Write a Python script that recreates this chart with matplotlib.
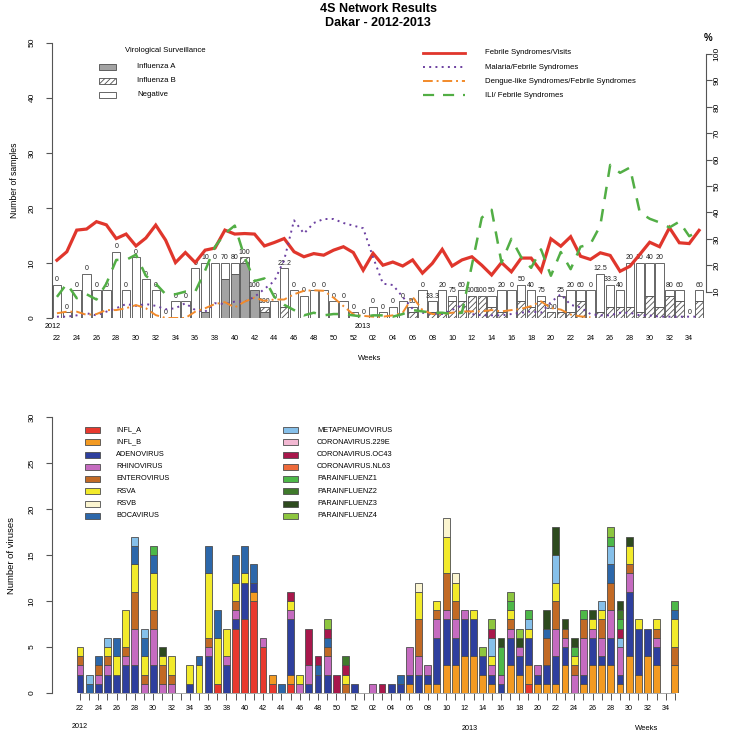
import numpy as np
import matplotlib.pyplot as plt
from matplotlib.patches import Rectangle
from matplotlib.lines import Line2D
from matplotlib.transforms import blended_transform_factory

plt.rcParams['font.family'] = ['Liberation Sans', 'DejaVu Sans']
plt.rcParams['hatch.linewidth'] = 0.6

########################################################### Data ###########################################################

weeks_2012 = list(range(22, 53))
weeks_2013 = list(range(1, 36))
week_nums = weeks_2012 + weeks_2013

# virological surveillance (number of samples)
samples_total = [6, 1, 5, 8, 5, 5, 12, 5, 11, 7, 5, 0, 3, 3, 9, 10, 10, 10, 10, 11, 5, 2, 3, 9, 5, 4, 5, 5, 3, 3, 1,
                 0, 2, 1, 2, 3, 2, 5, 3, 5, 4, 5, 4, 4, 4, 5, 5, 6, 5, 4, 1, 4, 5, 5, 5, 8, 6, 5, 10, 10, 10, 10, 5, 5, 0, 5]
flu_a_pos = [0, 0, 0, 0, 0, 0, 0, 0, 0, 0, 0, 0, 0, 0, 0, 1, 0, 7, 8, 10, 5, 1, 0, 0, 0, 0, 0, 0, 0, 0, 0,
             0, 0, 0, 0, 0, 0, 0, 0, 0, 0, 0, 0, 0, 0, 0, 0, 0, 0, 0, 0, 0, 0, 0, 0, 0, 0, 0, 0, 0, 0, 0, 0, 0, 0, 0]
flu_b_pos = [0, 0, 0, 0, 0, 0, 0, 0, 0, 0, 0, 0, 0, 0, 0, 0, 0, 0, 0, 1, 0, 1, 0, 2, 0, 0, 0, 0, 0, 0, 0,
             0, 0, 0, 0, 0, 1, 0, 1, 1, 3, 3, 4, 4, 2, 1, 0, 3, 2, 3, 1, 1, 1, 3, 0, 1, 2, 2, 2, 1, 4, 2, 4, 3, 0, 3]

# sentinel indicators (%)
febrile_visits = [21.9, 25.1, 33.3, 33.7, 36.5, 35.3, 30.1, 31.8, 27.3, 30.3, 35.2, 29.5, 21.0, 24.8, 21.0, 25.7,
                  26.5, 33.3, 31.8, 32.0, 31.8, 27.3, 28.6, 30.1, 25.1, 23.2, 24.4, 23.8, 25.7, 27.0, 24.8,
                  18.1, 24.5, 20.0, 21.2, 19.7, 22.0, 17.0, 20.7, 26.0, 19.7, 22.0, 23.2, 20.0, 16.3, 21.0, 17.5,
                  22.7, 22.7, 17.7, 30.0, 27.2, 30.8, 23.4, 22.2, 24.7, 23.7, 17.7, 19.6, 24.1, 28.7, 27.0, 34.2,
                  28.5, 28.2, 33.2]
malaria_febrile = [0.5, 0.5, 1, 1.8, 1, 2.4, 3.7, 5.3, 4.6, 5.3, 4.6, 3.3, 3.7, 5.6, 3, 2.4, 5.6, 5.3, 6.2, 6.2,
                   8, 11, 14, 22, 37, 32, 36, 37.5, 37.5, 36, 35,
                   34, 23, 13, 12.5, 8, 3.5, 2, 1.5, 1.5, 3, 5, 1.5, 1, 1, 1, 1.5, 2, 2.5, 2, 6, 9, 5, 4, 1.5,
                   1, 1, 2, 2, 1, 1, 0.5, 0.5, 0.5, 0.5, 0.5]
dengue_febrile = [1.8, 2.4, 2.4, 1.2, 1.5, 3, 3, 3.7, 4.9, 3.7, 1.1, 0, 0, 0, 2.4, 3.7, 5.3, 6, 4, 6.2,
                  7.7, 6.5, 7, 7, 9, 10.3, 10.5, 10.3, 7.7, 4.5, 1.4,
                  0.8, 0.5, 0.5, 1, 2, 8, 3, 1.5, 1.5, 2, 2.5, 2.5, 2.5, 3, 2.5, 3, 3.5, 4.5, 6.3, 3.8, 3.2,
                  1.3, 0.6, 0.3, np.nan, np.nan, np.nan, np.nan, np.nan, np.nan, np.nan, np.nan, np.nan, np.nan, np.nan]
ili_febrile = [8, 13, 7.5, 9, 7, 13, 22, 22, 24, 16, 13, 9, 9, 10, 10, 18, 27, 32, 35, 23, 14, 15, 8, 5, 3,
               1, 2, 1, 1.5, 1.5, 1,
               0.5, 1, 1, 0.5, 1.5, 3, 2.5, 2, 2, 1.5, 2, 20, 38, 41, 21, 30, 23, 19, 26, 16, 25, 18.5, 27, 28,
               35, 58, 55, 57, 40, 37.6, 36.2, 34.3, 36.5, 31, 33]

# virus counts, 2012 weeks 22-52 then 2013 weeks 1-35
infl_a = [0, 0, 0, 0, 0, 0, 0, 0, 0, 0, 0, 0, 0, 0, 0, 1, 0, 7, 8, 10, 5, 1, 0, 1, 0, 0, 0, 0, 0, 0, 0] + \
         [0, 0, 0, 0, 0, 0, 0, 0, 0, 0, 0, 0, 0, 0, 0, 0, 0, 0, 1, 0, 0, 0, 0, 0, 0, 0, 0, 0, 0, 0, 0, 0, 0, 0, 0]
infl_b = [0, 0, 0, 0, 0, 0, 0, 0, 0, 0, 0, 0, 0, 0, 0, 0, 0, 0, 0, 1, 0, 1, 0, 1, 0, 0, 0, 0, 0, 0, 0] + \
         [0, 0, 0, 0, 0, 1, 0, 1, 1, 3, 3, 4, 4, 2, 1, 0, 3, 2, 2, 1, 1, 1, 3, 0, 1, 3, 3, 3, 1, 4, 2, 4, 3, 0, 3]
adenovirus = [2, 0, 1, 2, 2, 3, 3, 0, 3, 0, 0, 0, 1, 0, 4, 0, 3, 1, 4, 1, 0, 0, 0, 6, 0, 1, 2, 2, 0, 0, 1] + \
             [0, 0, 0, 1, 1, 1, 2, 1, 5, 5, 3, 4, 4, 2, 1, 1, 3, 2, 3, 1, 2, 3, 2, 0, 1, 3, 1, 3, 1, 7, 5, 3, 2, 0, 0]
rhinovirus = [1, 0, 1, 1, 0, 1, 4, 1, 4, 1, 1, 0, 0, 0, 1, 0, 1, 1, 0, 0, 1, 0, 0, 1, 1, 2, 0, 2, 0, 0, 0] + \
             [0, 1, 0, 0, 0, 3, 2, 1, 2, 1, 2, 1, 0, 0, 1, 1, 1, 1, 0, 1, 0, 3, 1, 2, 4, 1, 2, 3, 3, 2, 0, 0, 1, 0, 0]
enterovirus = [1, 0, 1, 1, 0, 1, 4, 1, 2, 2, 1, 0, 0, 0, 1, 0, 0, 1, 0, 0, 0, 0, 0, 0, 0, 0, 0, 1, 0, 1, 0] + \
              [0, 0, 0, 0, 0, 0, 4, 0, 1, 4, 2, 0, 0, 0, 0, 0, 1, 0, 0, 0, 3, 3, 1, 1, 2, 0, 2, 3, 0, 1, 0, 0, 1, 0, 2]
rsva = [1, 0, 0, 1, 2, 4, 3, 2, 4, 1, 2, 0, 2, 3, 7, 5, 3, 2, 1, 0, 0, 0, 0, 1, 1, 0, 0, 0, 0, 1, 0] + \
       [0, 0, 0, 0, 0, 0, 3, 0, 1, 4, 2, 0, 1, 0, 1, 0, 1, 0, 1, 0, 0, 2, 0, 1, 0, 1, 1, 0, 0, 2, 1, 0, 1, 0, 3]
rsvb = [0, 0, 0, 0, 0, 0, 0, 0, 0, 0, 0, 0, 0, 0, 0, 0, 0, 0, 0, 0, 0, 0, 0, 0, 0, 0, 0, 0, 0, 0, 0] + \
       [0, 0, 0, 0, 0, 0, 1, 0, 0, 2, 1, 0, 0, 0, 0, 0, 0, 0, 0, 0, 0, 0, 0, 0, 0, 0, 0, 0, 0, 0, 0, 0, 0, 0, 0]
bocavirus = [0, 1, 1, 0, 2, 0, 2, 2, 2, 0, 0, 0, 0, 1, 3, 3, 0, 3, 3, 2, 0, 0, 1, 0, 0, 0, 1, 1, 0, 0, 0] + \
            [0, 0, 0, 0, 1, 0, 0, 0, 0, 0, 0, 0, 0, 0, 0, 0, 0, 0, 0, 0, 1, 0, 0, 0, 0, 0, 0, 2, 0, 0, 0, 0, 0, 0, 1]
metapneumovirus = [0, 1, 0, 1, 0, 0, 1, 1, 0, 0, 0, 0, 0, 0, 0, 0, 0, 0, 0, 0, 0, 0, 0, 0, 0, 0, 0, 0, 0, 0, 0] + \
                  [0, 0, 0, 0, 0, 0, 0, 0, 0, 0, 0, 0, 0, 0, 2, 0, 0, 0, 1, 0, 0, 3, 0, 0, 0, 0, 1, 2, 1, 0, 0, 0, 0, 0, 0]
corona_229e = [0, 0, 0, 0, 0, 0, 0, 0, 0, 0, 0, 0, 0, 0, 0, 0, 0, 0, 0, 0, 0, 0, 0, 0, 0, 0, 0, 0, 0, 0, 0] + \
              [0, 0, 0, 0, 0, 0, 0, 0, 0, 0, 0, 0, 0, 0, 0, 0, 0, 0, 0, 0, 0, 0, 0, 0, 0, 0, 0, 0, 0, 0, 0, 0, 0, 0, 0]
corona_oc43 = [0, 0, 0, 0, 0, 0, 0, 0, 0, 0, 0, 0, 0, 0, 0, 0, 0, 0, 0, 0, 0, 0, 0, 1, 0, 4, 1, 1, 2, 1, 0] + \
              [0, 0, 1, 0, 0, 0, 0, 0, 0, 0, 0, 0, 0, 0, 1, 0, 0, 0, 0, 0, 0, 0, 0, 0, 0, 0, 0, 0, 1, 0, 0, 0, 0, 0, 0]
corona_nl63 = [0, 0, 0, 0, 0, 0, 0, 0, 0, 0, 0, 0, 0, 0, 0, 0, 0, 0, 0, 0, 0, 0, 0, 0, 0, 0, 0, 0, 0, 0, 0] + \
              [0, 0, 0, 0, 0, 0, 0, 0, 0, 0, 0, 0, 0, 0, 0, 0, 0, 0, 0, 0, 0, 0, 0, 0, 0, 0, 0, 0, 0, 0, 0, 0, 0, 0, 0]
parainfluenza1 = [0, 0, 0, 0, 0, 0, 0, 0, 1, 0, 0, 0, 0, 0, 0, 0, 0, 0, 0, 0, 0, 0, 0, 0, 0, 0, 0, 0, 0, 0, 0] + \
                 [0, 0, 0, 0, 0, 0, 0, 0, 0, 0, 0, 0, 0, 0, 0, 3, 1, 0, 1, 0, 0, 0, 0, 1, 1, 0, 0, 1, 1, 0, 0, 0, 0, 0, 1]
parainfluenza2 = [0, 0, 0, 0, 0, 0, 0, 0, 0, 0, 0, 0, 0, 0, 0, 0, 0, 0, 0, 0, 0, 0, 0, 0, 0, 0, 0, 0, 0, 1, 0] + \
                 [0, 0, 0, 0, 0, 0, 0, 0, 0, 0, 0, 0, 0, 0, 0, 0, 0, 0, 0, 0, 0, 0, 0, 0, 0, 0, 0, 0, 1, 0, 0, 0, 0, 0, 0]
parainfluenza3 = [0, 0, 0, 0, 0, 0, 0, 0, 0, 1, 0, 0, 0, 0, 0, 0, 0, 0, 0, 0, 0, 0, 0, 0, 0, 0, 0, 0, 0, 0, 0] + \
                 [0, 0, 0, 0, 0, 0, 0, 0, 0, 0, 0, 0, 0, 0, 0, 1, 0, 1, 0, 0, 2, 3, 1, 1, 0, 1, 0, 0, 1, 1, 0, 0, 0, 0, 0]
parainfluenza4 = [0, 0, 0, 0, 0, 0, 0, 0, 0, 0, 0, 0, 0, 0, 0, 0, 0, 0, 0, 0, 0, 0, 0, 0, 0, 0, 0, 1, 0, 0, 0] + \
                 [0, 0, 0, 0, 0, 0, 0, 0, 0, 0, 0, 0, 0, 1, 1, 0, 1, 1, 0, 0, 0, 0, 0, 0, 0, 0, 0, 1, 0, 0, 0, 0, 0, 0, 0]

virus_names = ['INFL_A', 'INFL_B', 'ADENOVIRUS', 'RHINOVIRUS', 'ENTEROVIRUS', 'RSVA', 'RSVB', 'BOCAVIRUS',
               'METAPNEUMOVIRUS', 'CORONAVIRUS.229E', 'CORONAVIRUS.OC43', 'CORONAVIRUS.NL63',
               'PARAINFLUENZ1', 'PARAINFLUENZ2', 'PARAINFLUENZ3', 'PARAINFLUENZ4']
virus_counts = [infl_a, infl_b, adenovirus, rhinovirus, enterovirus, rsva, rsvb, bocavirus,
                metapneumovirus, corona_229e, corona_oc43, corona_nl63,
                parainfluenza1, parainfluenza2, parainfluenza3, parainfluenza4]
virus_colors = ['#E8392E', '#F39A22', '#2E3F9E', '#C56BC0', '#C26A25', '#F2EA2B', '#FBF5D0', '#2C67AA',
                '#86C0EA', '#F2B8D2', '#A8174B', '#EE6A3A', '#4DB848', '#3F7A2B', '#2D4A1E', '#8DC63F']

########################################################### Layout helpers ###########################################################

W, H = 730, 736


def fx(px):
    return px / W


def fy(py):
    return 1 - py / H


fig = plt.figure(figsize=(7.3, 7.36), dpi=100)
x = np.arange(len(week_nums))
week_labels = ['%02d' % w if w % 2 == 0 else '' for w in week_nums]
even = [i for i, w in enumerate(week_nums) if w % 2 == 0]
axis_col = '#555555'
edge_col = '#4d4d4d'

########################################################### Top panel ###########################################################

ax = fig.add_axes([fx(52), fy(318), fx(706) - fx(52), fy(42.7) - fy(318)])
ax.set_xlim(-0.5, 65.7)
ax.set_ylim(0, 50)

tot = np.array(samples_total, dtype=float)
fa = np.array(flu_a_pos, dtype=float)
fb = np.array(flu_b_pos, dtype=float)
neg = tot - fa - fb

m = fa > 0
ax.bar(x[m], fa[m], 0.85, color='#A3A3A3', edgecolor=edge_col, lw=0.6)
m = fb > 0
ax.bar(x[m], fb[m], 0.85, bottom=fa[m], color='white', hatch='//////', edgecolor=edge_col, lw=0.6)
m = neg > 0
ax.bar(x[m], neg[m], 0.85, bottom=(fa + fb)[m], color='white', edgecolor=edge_col, lw=0.6)

# percentage of positive samples above each bar
pct = np.where(tot > 0, (fa + fb) / np.where(tot > 0, tot, 1) * 100, 0)
for xi, t, p in zip(x, tot, pct):
    lab = ('%.1f' % p).rstrip('0').rstrip('.')
    ax.text(xi, t + 0.3, lab, ha='center', va='bottom', fontsize=5.0, color='#222222')

for s in ['top', 'right', 'bottom']:
    ax.spines[s].set_visible(False)
ax.spines['left'].set_bounds(0, 50)
ax.spines['left'].set_color(axis_col)
ax.set_yticks(range(0, 51, 10))
ax.tick_params(axis='y', length=4, width=0.8, color=axis_col, pad=8, labelsize=6, labelrotation=90)
for t in ax.get_yticklabels():
    t.set_va('center')
ax.set_xticks([x[i] for i in even])
ax.set_xticklabels([week_labels[i] for i in even])
ax.tick_params(axis='x', length=0, pad=12, labelsize=5.2)

trans = blended_transform_factory(ax.transData, fig.transFigure)
ax.text(-0.4, fy(326), '2012', transform=trans, ha='center', va='center', fontsize=5.2)
ax.text(31, fy(326), '2013', transform=trans, ha='center', va='center', fontsize=5.2)

ax2 = ax.twinx()
ax2.set_ylim(0, 104.3)
ax2.plot(x, febrile_visits, color='#E0362C', lw=2.3, solid_joinstyle='miter')
ax2.plot(x, malaria_febrile, color='#6B3FA0', lw=1.4, ls=(0, (1, 2.2)))
ax2.plot(x, dengue_febrile, color='#F28A2A', lw=1.4, ls=(0, (5, 2, 1, 2)))
ax2.plot(x, ili_febrile, color='#52AE45', lw=1.8, ls=(0, (5, 4)))
for s in ['top', 'left', 'bottom']:
    ax2.spines[s].set_visible(False)
ax2.spines['right'].set_bounds(10, 100)
ax2.spines['right'].set_color(axis_col)
ax2.set_yticks(range(10, 101, 10))
ax2.tick_params(axis='y', length=4, width=0.8, color=axis_col, pad=1.5, labelsize=6, labelrotation=90)
for t in ax2.get_yticklabels():
    t.set_va('center')

fig.text(fx(378), fy(9), '4S Network Results', ha='center', va='center', fontsize=9, fontweight='bold')
fig.text(fx(378), fy(23), 'Dakar - 2012-2013', ha='center', va='center', fontsize=9, fontweight='bold')
fig.text(fx(15), fy(180), 'Number of samples', rotation=90, ha='center', va='center', fontsize=6.2)
fig.text(fx(708), fy(38), '%', ha='center', va='center', fontsize=7, fontweight='bold')
fig.text(fx(370), fy(358), 'Weeks', ha='center', va='center', fontsize=5.5)

# legends of the top panel
fig.text(fx(125), fy(51), 'Virological Surveillance', ha='left', va='center', fontsize=5.6)
surv_items = [('Influenza A', '#A3A3A3', None), ('Influenza B', 'white', '//////'), ('Negative', 'white', None)]
for k, (lab, col, hat) in enumerate(surv_items):
    yc = 67 + 14 * k
    fig.add_artist(Rectangle((fx(99), fy(yc + 3)), 17 / W, 6 / H, transform=fig.transFigure,
                             facecolor=col, edgecolor=edge_col, hatch=hat, lw=0.6))
    fig.text(fx(137), fy(yc), lab, ha='left', va='center', fontsize=5.6)

line_items = [('Febrile Syndromes/Visits', '#E0362C', '-', 2.0),
              ('Malaria/Febrile Syndromes', '#6B3FA0', (0, (1, 2.2)), 1.4),
              ('Dengue-like Syndromes/Febrile Syndromes', '#F28A2A', (0, (5, 2, 1, 2)), 1.4),
              ('ILI/ Febrile Syndromes', '#52AE45', (0, (5, 4)), 1.6)]
for k, (lab, col, ls, lw) in enumerate(line_items):
    yc = 53 + 14.1 * k
    fig.add_artist(Line2D([fx(423), fx(465)], [fy(yc), fy(yc)], transform=fig.transFigure,
                          color=col, ls=ls, lw=lw))
    fig.text(fx(485), fy(yc), lab, ha='left', va='center', fontsize=5.6)

########################################################### Bottom panel ###########################################################

bx = fig.add_axes([fx(52), fy(693), fx(706) - fx(52), fy(417) - fy(693)])
bx.set_xlim(-3.06, 68.4)
bx.set_ylim(0, 30)

base = np.zeros(len(x))
for vals, col in zip(virus_counts, virus_colors):
    v = np.array(vals, dtype=float)
    m = v > 0
    bx.bar(x[m], v[m], 0.75, bottom=base[m], color=col, edgecolor=edge_col, lw=0.6)
    base += v

for s in ['top', 'right']:
    bx.spines[s].set_visible(False)
bx.spines['left'].set_bounds(0, 30)
bx.spines['left'].set_color(axis_col)
bx.spines['bottom'].set_bounds(0, 65)
bx.spines['bottom'].set_color('#9a9a9a')
bx.spines['bottom'].set_linewidth(0.6)
bx.set_yticks(range(0, 31, 5))
bx.tick_params(axis='y', length=4, width=0.8, color=axis_col, pad=8, labelsize=6, labelrotation=90)
for t in bx.get_yticklabels():
    t.set_va('center')
bx.set_xticks(x)
bx.set_xticklabels(week_labels)
bx.tick_params(axis='x', length=5, width=0.7, color=axis_col, pad=4, labelsize=5.2)

trans_b = blended_transform_factory(bx.transData, fig.transFigure)
bx.text(0, fy(727), '2012', transform=trans_b, ha='center', va='center', fontsize=5.2)
bx.text(42.6, fy(728), '2013', transform=trans_b, ha='center', va='center', fontsize=5.2)
fig.text(fx(647), fy(728), 'Weeks', ha='center', va='center', fontsize=5.5)
fig.text(fx(12), fy(555), 'Number of viruses', rotation=90, ha='center', va='center', fontsize=6.8)

# legend of the bottom panel, two columns of eight
for k, (lab, col) in enumerate(zip(virus_names, virus_colors)):
    col_i, row_i = divmod(k, 8)
    px0 = 85 if col_i == 0 else 283
    tx0 = 116 if col_i == 0 else 317
    yc = 430 + 12.25 * row_i
    fig.add_artist(Rectangle((fx(px0), fy(yc + 3)), 15 / W, 6 / H, transform=fig.transFigure,
                             facecolor=col, edgecolor=edge_col, lw=0.6))
    fig.text(fx(tx0), fy(yc), lab, ha='left', va='center', fontsize=5.3)

fig.savefig('out.png', dpi=100, facecolor='white')
plt.close(fig)
